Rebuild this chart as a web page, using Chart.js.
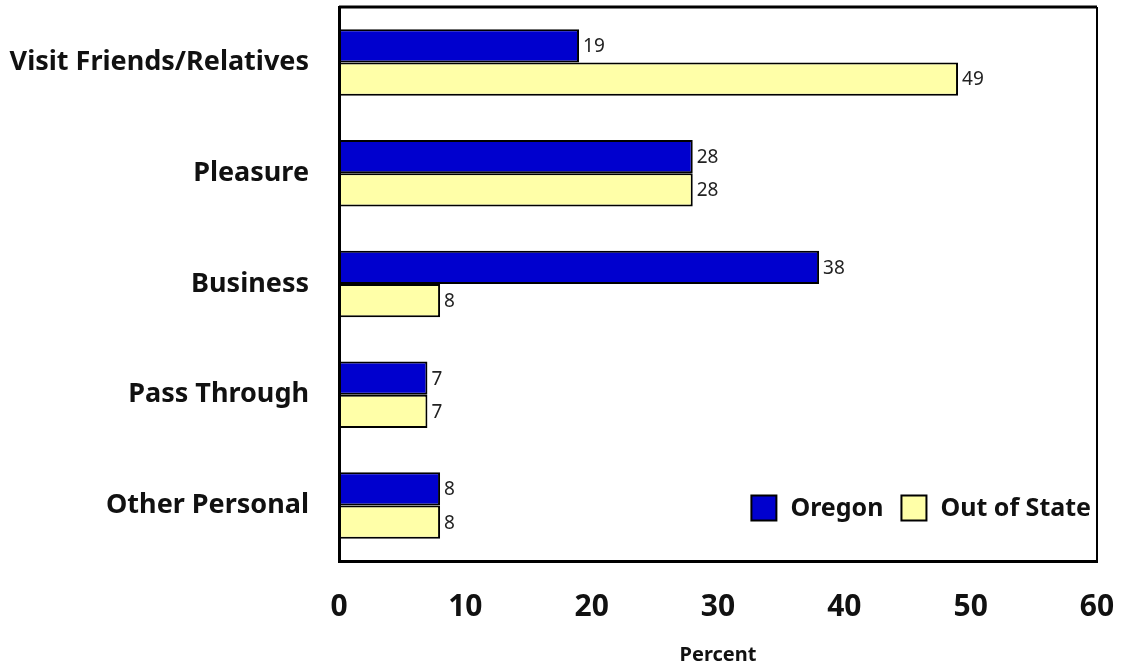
<!DOCTYPE html>
<html>
<head>
<meta charset="utf-8">
<script src="https://cdn.jsdelivr.net/npm/chart.js@4"></script>
<style>
  html, body { margin: 0; padding: 0; background: #fff; }
  #wrap { width: 1125px; height: 669px; }
</style>
</head>
<body>
<div id="wrap"><canvas id="myChart" width="1125" height="669"></canvas></div>
<script>
const categories = ["Visit Friends/Relatives", "Pleasure", "Business", "Pass Through", "Other Personal"];
const oregon = [19, 28, 38, 7, 8];
const outOfState = [49, 28, 8, 7, 8];
const xTicks = [0, 10, 20, 30, 40, 50, 60];

const FONT = "'Noto Sans', 'Open Sans', sans-serif";
const blue = "rgb(0,0,206)";
const yellow = "rgb(255,255,168)";

// value labels to the right of each bar
const valueLabels = {
  id: "valueLabels",
  afterDatasetsDraw(chart) {
    const ctx = chart.ctx;
    ctx.save();
    ctx.font = "19px " + FONT;
    ctx.fillStyle = "#222";
    ctx.textAlign = "left";
    ctx.textBaseline = "middle";
    chart.data.datasets.forEach((ds, i) => {
      chart.getDatasetMeta(i).data.forEach((bar, j) => {
        ctx.fillText(ds.data[j], bar.x + 4, bar.y + 1);
      });
    });
    ctx.restore();
  }
};

// frame round the plot area
const frame = {
  id: "frame",
  afterDraw(chart) {
    const a = chart.chartArea, ctx = chart.ctx;
    ctx.save();
    ctx.strokeStyle = "#000";
    ctx.lineWidth = 3;
    ctx.beginPath();
    ctx.moveTo(a.left, a.top);
    ctx.lineTo(a.right, a.top);
    ctx.stroke();
    ctx.lineWidth = 2;
    ctx.beginPath();
    ctx.moveTo(a.right, a.top);
    ctx.lineTo(a.right, a.bottom);
    ctx.stroke();
    ctx.restore();
  }
};

// legend drawn inside the plot, bottom right
const insideLegend = {
  id: "insideLegend",
  afterDraw(chart) {
    const a = chart.chartArea, ctx = chart.ctx;
    ctx.save();
    ctx.font = "bold 25px " + FONT;
    ctx.textBaseline = "middle";
    const cy = a.bottom - 53;
    const box = 25;
    const items = chart.data.datasets.map(ds => ({ text: ds.label, color: ds.backgroundColor }));
    const widths = items.map(it => box + 14 + ctx.measureText(it.text).width);
    const gap = 18;
    const total = widths.reduce((s, w) => s + w, 0) + gap;
    let x = a.right - 6 - total;
    items.forEach((it, i) => {
      ctx.fillStyle = it.color;
      ctx.fillRect(x, cy - box / 2, box, box);
      ctx.strokeStyle = "#000";
      ctx.lineWidth = 2;
      ctx.strokeRect(x, cy - box / 2, box, box);
      ctx.fillStyle = "#111";
      ctx.fillText(it.text, x + box + 14, cy + 1);
      x += widths[i] + gap;
    });
    ctx.restore();
  }
};

new Chart(document.getElementById("myChart").getContext("2d"), {
  type: "bar",
  data: {
    labels: categories,
    datasets: [
      { label: "Oregon", data: oregon, backgroundColor: blue, borderColor: "#000", borderWidth: 2, borderSkipped: false },
      { label: "Out of State", data: outOfState, backgroundColor: yellow, borderColor: "#000", borderWidth: 2, borderSkipped: false }
    ]
  },
  options: {
    indexAxis: "y",
    responsive: false,
    animation: false,
    categoryPercentage: 0.6,
    barPercentage: 1.0,
    layout: { padding: { top: 7, right: 28, left: 0, bottom: 0 } },
    plugins: {
      legend: { display: false },
      tooltip: { enabled: false }
    },
    scales: {
      x: {
        min: 0, max: 60,
        afterBuildTicks(scale) { scale.ticks = xTicks.map(v => ({ value: v })); },
        afterFit(scale) { scale.height = 108; scale.paddingLeft = 0; scale.paddingRight = 0; },
        grid: { display: false, drawTicks: false },
        border: { display: true, color: "#000", width: 3 },
        ticks: { color: "#111", padding: 28, font: { family: FONT, size: 30, weight: "bold" } },
        title: { display: true, text: "Percent", color: "#111", padding: { top: 0, bottom: 2 }, font: { family: FONT, size: 20, weight: "bold" } }
      },
      y: {
        afterFit(scale) { scale.width = 339; scale.paddingTop = 0; scale.paddingBottom = 0; },
        grid: { display: false, drawTicks: false },
        border: { display: true, color: "#000", width: 3 },
        ticks: { color: "#111", padding: 30, font: { family: FONT, size: 27, weight: "bold" } }
      }
    }
  },
  plugins: [valueLabels, frame, insideLegend]
});
</script>
</body>
</html>
